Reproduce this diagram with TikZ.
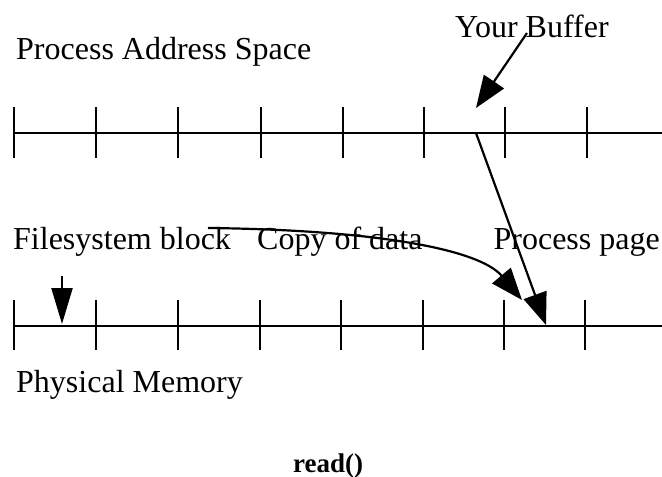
\documentclass[tikz,border=0pt]{standalone}
\usepackage{fontspec}
\setmainfont{Liberation Serif}
\usetikzlibrary{arrows.meta}
\begin{document}
\begin{tikzpicture}[x=1pt,y=-1pt,
  rail/.style={line width=2.6pt},
  tick/.style={line width=2.6pt},
  bigtip/.style={line width=2.2pt,-{Triangle[length=32pt,width=24pt]}},
  lbl/.style={inner sep=0pt,anchor=base west,font=\fontsize{32}{38}\selectfont},
  capt/.style={inner sep=0pt,anchor=base,font=\fontsize{27}{32}\selectfont\bfseries}]
\useasboundingbox (0,0) rectangle (662,477);

% page rails
\coordinate (vstart) at (14,133);  \coordinate (vend) at (662,133);
\coordinate (pstart) at (14,326);  \coordinate (pend) at (662,326);
\draw[rail] (vstart) -- (vend);
\draw[rail] (pstart) -- (pend);

% page boundaries, virtual
\foreach \x [count=\i] in {14,96,178,261,343,424,505,587}
  \draw[tick] (\x,107) coordinate (vt\i) -- (\x,158);
% page boundaries, physical
\foreach \x [count=\i] in {14,96,178,260,341,423,504,585}
  \draw[tick] (\x,300) coordinate (pt\i) -- (\x,350);

% labels
\node[lbl] (pas) at (16,59) {Process Address Space};
\node[lbl] (buf) at (455,37) {Your Buffer};
\node[lbl] (fsb) at (13,249) {Filesystem block};
\node[lbl] (cpy) at (257,249) {Copy of data};
\node[lbl,anchor=base east] (ppg) at (660,249) {Process page};
\node[lbl] (pm)  at (16,392) {Physical Memory};
\node[capt] (rd) at (328,472) {read()};

% arrows
\coordinate (bufsrc) at (527,33);   \coordinate (bufdst) at (476,108);
\coordinate (vpage)  at (476,133);  \coordinate (ppage)  at (546,325);
\coordinate (fsrc)   at (62,276);   \coordinate (fdst)   at (62,324);
\coordinate (csrc)   at (208,228);  \coordinate (cdst)   at (522,300);

\draw[bigtip] (bufsrc) -- (bufdst);
\draw[bigtip] (vpage) -- (ppage);
\draw[line width=2.2pt,-{Triangle[length=36pt,width=21pt]}] (fsrc) -- (fdst);
\draw[bigtip] (csrc) .. controls (380,230) and (480,250) .. (cdst);
\end{tikzpicture}
\end{document}
